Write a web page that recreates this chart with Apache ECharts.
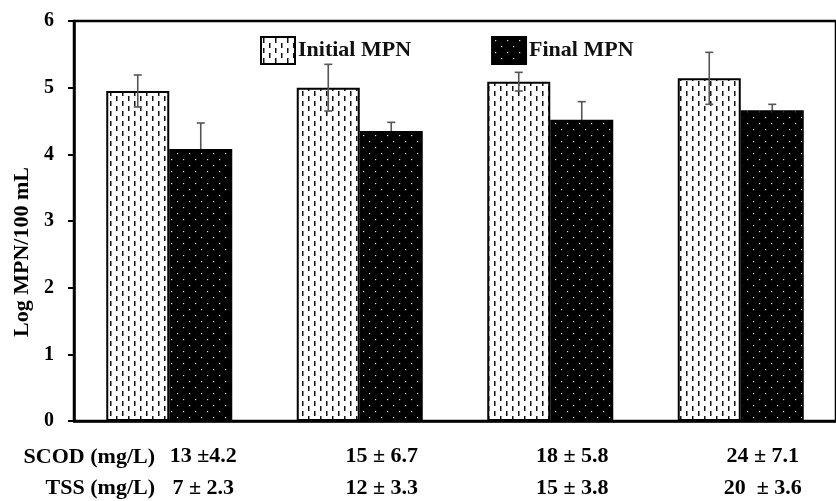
<!DOCTYPE html>
<html>
<head>
<meta charset="utf-8">
<script src="https://cdn.jsdelivr.net/npm/echarts@6/dist/echarts.min.js"></script>
<style>
  html, body { margin: 0; padding: 0; background: #fff; }
  #chart { width: 836px; height: 501px; }
</style>
</head>
<body>
<div id="chart"></div>
<script>
// Sampling groups, with the water quality shown under each pair of bars
const groups = ['G1', 'G2', 'G3', 'G4'];
const scodLabels = ['13 ±4.2', '15 ± 6.7', '18 ± 5.8', '24 ± 7.1'];
const tssLabels = ['7 ± 2.3', '12 ± 3.3', '15 ± 3.8', '20  ± 3.6'];

// Log MPN/100 mL, mean and standard deviation
const initialMPN = [4.95, 5.00, 5.09, 5.14];
const initialErr = [0.24, 0.35, 0.14, 0.39];
const finalMPN = [4.08, 4.35, 4.52, 4.66];
const finalErr = [0.39, 0.13, 0.27, 0.09];

const yTicks = [0, 1, 2, 3, 4, 5, 6];

const FONT = '"Liberation Serif", "Times New Roman", serif';
const BAR_W = 63;

// Hatch fills
function dashPattern() {
  const c = document.createElement('canvas');
  c.width = 12; c.height = 10;
  const g = c.getContext('2d');
  g.fillStyle = '#fff'; g.fillRect(0, 0, 12, 10);
  g.fillStyle = '#111';
  g.fillRect(2, 1, 1.5, 5);
  g.fillRect(8, 6, 1.5, 4);
  g.fillRect(8, 0, 1.5, 1);
  return c;
}
function dotPattern() {
  const c = document.createElement('canvas');
  c.width = 12; c.height = 12;
  const g = c.getContext('2d');
  g.fillStyle = '#000'; g.fillRect(0, 0, 12, 12);
  g.fillStyle = '#e8e8e8';
  g.fillRect(3, 3, 1.2, 1.2);
  g.fillRect(9, 9, 1.2, 1.2);
  return c;
}

function errorBars(means, errs, side) {
  return {
    type: 'custom',
    z: side < 0 ? 5 : 1,
    silent: true,
    data: means.map((m, i) => [i, m, errs[i]]),
    renderItem: function (params, api) {
      const i = api.value(0), m = api.value(1), e = api.value(2);
      const top = api.coord([i, m + e]);
      const bot = api.coord([i, m - e]);
      const x = top[0] + side * BAR_W / 2;
      const cap = 4;
      const style = { stroke: '#555', lineWidth: 1.6 };
      return {
        type: 'group',
        children: [
          { type: 'line', shape: { x1: x, y1: top[1], x2: x, y2: bot[1] }, style: style },
          { type: 'line', shape: { x1: x - cap, y1: top[1], x2: x + cap, y2: top[1] }, style: style },
          { type: 'line', shape: { x1: x - cap, y1: bot[1], x2: x + cap, y2: bot[1] }, style: style }
        ]
      };
    }
  };
}

const labelStyle = { fontFamily: FONT, fontWeight: 'bold', fontSize: 22, color: '#000', lineHeight: 32 };

const chart = echarts.init(document.getElementById('chart'));
chart.setOption({
  animation: false,
  backgroundColor: '#fff',
  textStyle: { fontFamily: FONT },
  grid: {
    left: 74, top: 21, width: 772, height: 400,
    show: true, borderColor: '#000', borderWidth: 2.5, backgroundColor: 'transparent'
  },
  legend: {
    left: 255, top: 31,
    icon: 'rect',
    itemWidth: 34, itemHeight: 27, itemGap: 80,
    textStyle: { fontFamily: FONT, fontWeight: 'bold', fontSize: 22, color: '#111', padding: [0, 0, 0, -2] },
    data: ['Initial MPN', 'Final MPN']
  },
  xAxis: {
    type: 'category',
    data: groups,
    axisLine: { lineStyle: { color: '#000', width: 2.5 } },
    axisTick: { show: false },
    axisLabel: {
      margin: 19,
      padding: [0, 0, 0, 44],
      formatter: function (v, i) {
        const k = i === 0 ? 'f' : 'a';
        return '{' + k + '|' + scodLabels[i] + '}\n{' + k + '|' + tssLabels[i] + '}';
      },
      rich: {
        a: labelStyle,
        f: Object.assign({}, labelStyle, { padding: [0, 0, 0, 24] })
      }
    }
  },
  yAxis: {
    type: 'value',
    min: yTicks[0], max: yTicks[yTicks.length - 1], interval: 1,
    splitLine: { show: false },
    axisLine: { show: true, lineStyle: { color: '#000', width: 2.5 } },
    axisTick: { show: true, inside: false, length: 6, lineStyle: { color: '#000', width: 2 } },
    axisLabel: { margin: 20, fontFamily: FONT, fontWeight: 'bold', fontSize: 20, color: '#000' }
  },
  graphic: [
    {
      type: 'text', rotation: Math.PI / 2, x: 22, y: 252,
      style: {
        text: 'Log MPN/100 mL', font: 'bold 22px ' + FONT, fill: '#000',
        align: 'center', verticalAlign: 'middle'
      }
    },
    {
      type: 'text', x: 155, y: 457,
      style: { text: 'SCOD (mg/L)', font: 'bold 22px ' + FONT, fill: '#000', align: 'right', verticalAlign: 'middle' }
    },
    {
      type: 'text', x: 155, y: 488,
      style: { text: 'TSS (mg/L)', font: 'bold 22px ' + FONT, fill: '#000', align: 'right', verticalAlign: 'middle' }
    }
  ],
  series: [
    {
      name: 'Initial MPN', type: 'bar', data: initialMPN,
      barWidth: BAR_W, barGap: '0%', z: 3,
      itemStyle: { color: { image: dashPattern(), repeat: 'repeat' }, borderColor: '#000', borderWidth: 2 }
    },
    {
      name: 'Final MPN', type: 'bar', data: finalMPN,
      barWidth: BAR_W, barGap: '0%', z: 3,
      itemStyle: { color: { image: dotPattern(), repeat: 'repeat' }, borderColor: '#000', borderWidth: 1.5 }
    },
    errorBars(initialMPN, initialErr, -1),
    errorBars(finalMPN, finalErr, 1)
  ]
});
</script>
</body>
</html>
